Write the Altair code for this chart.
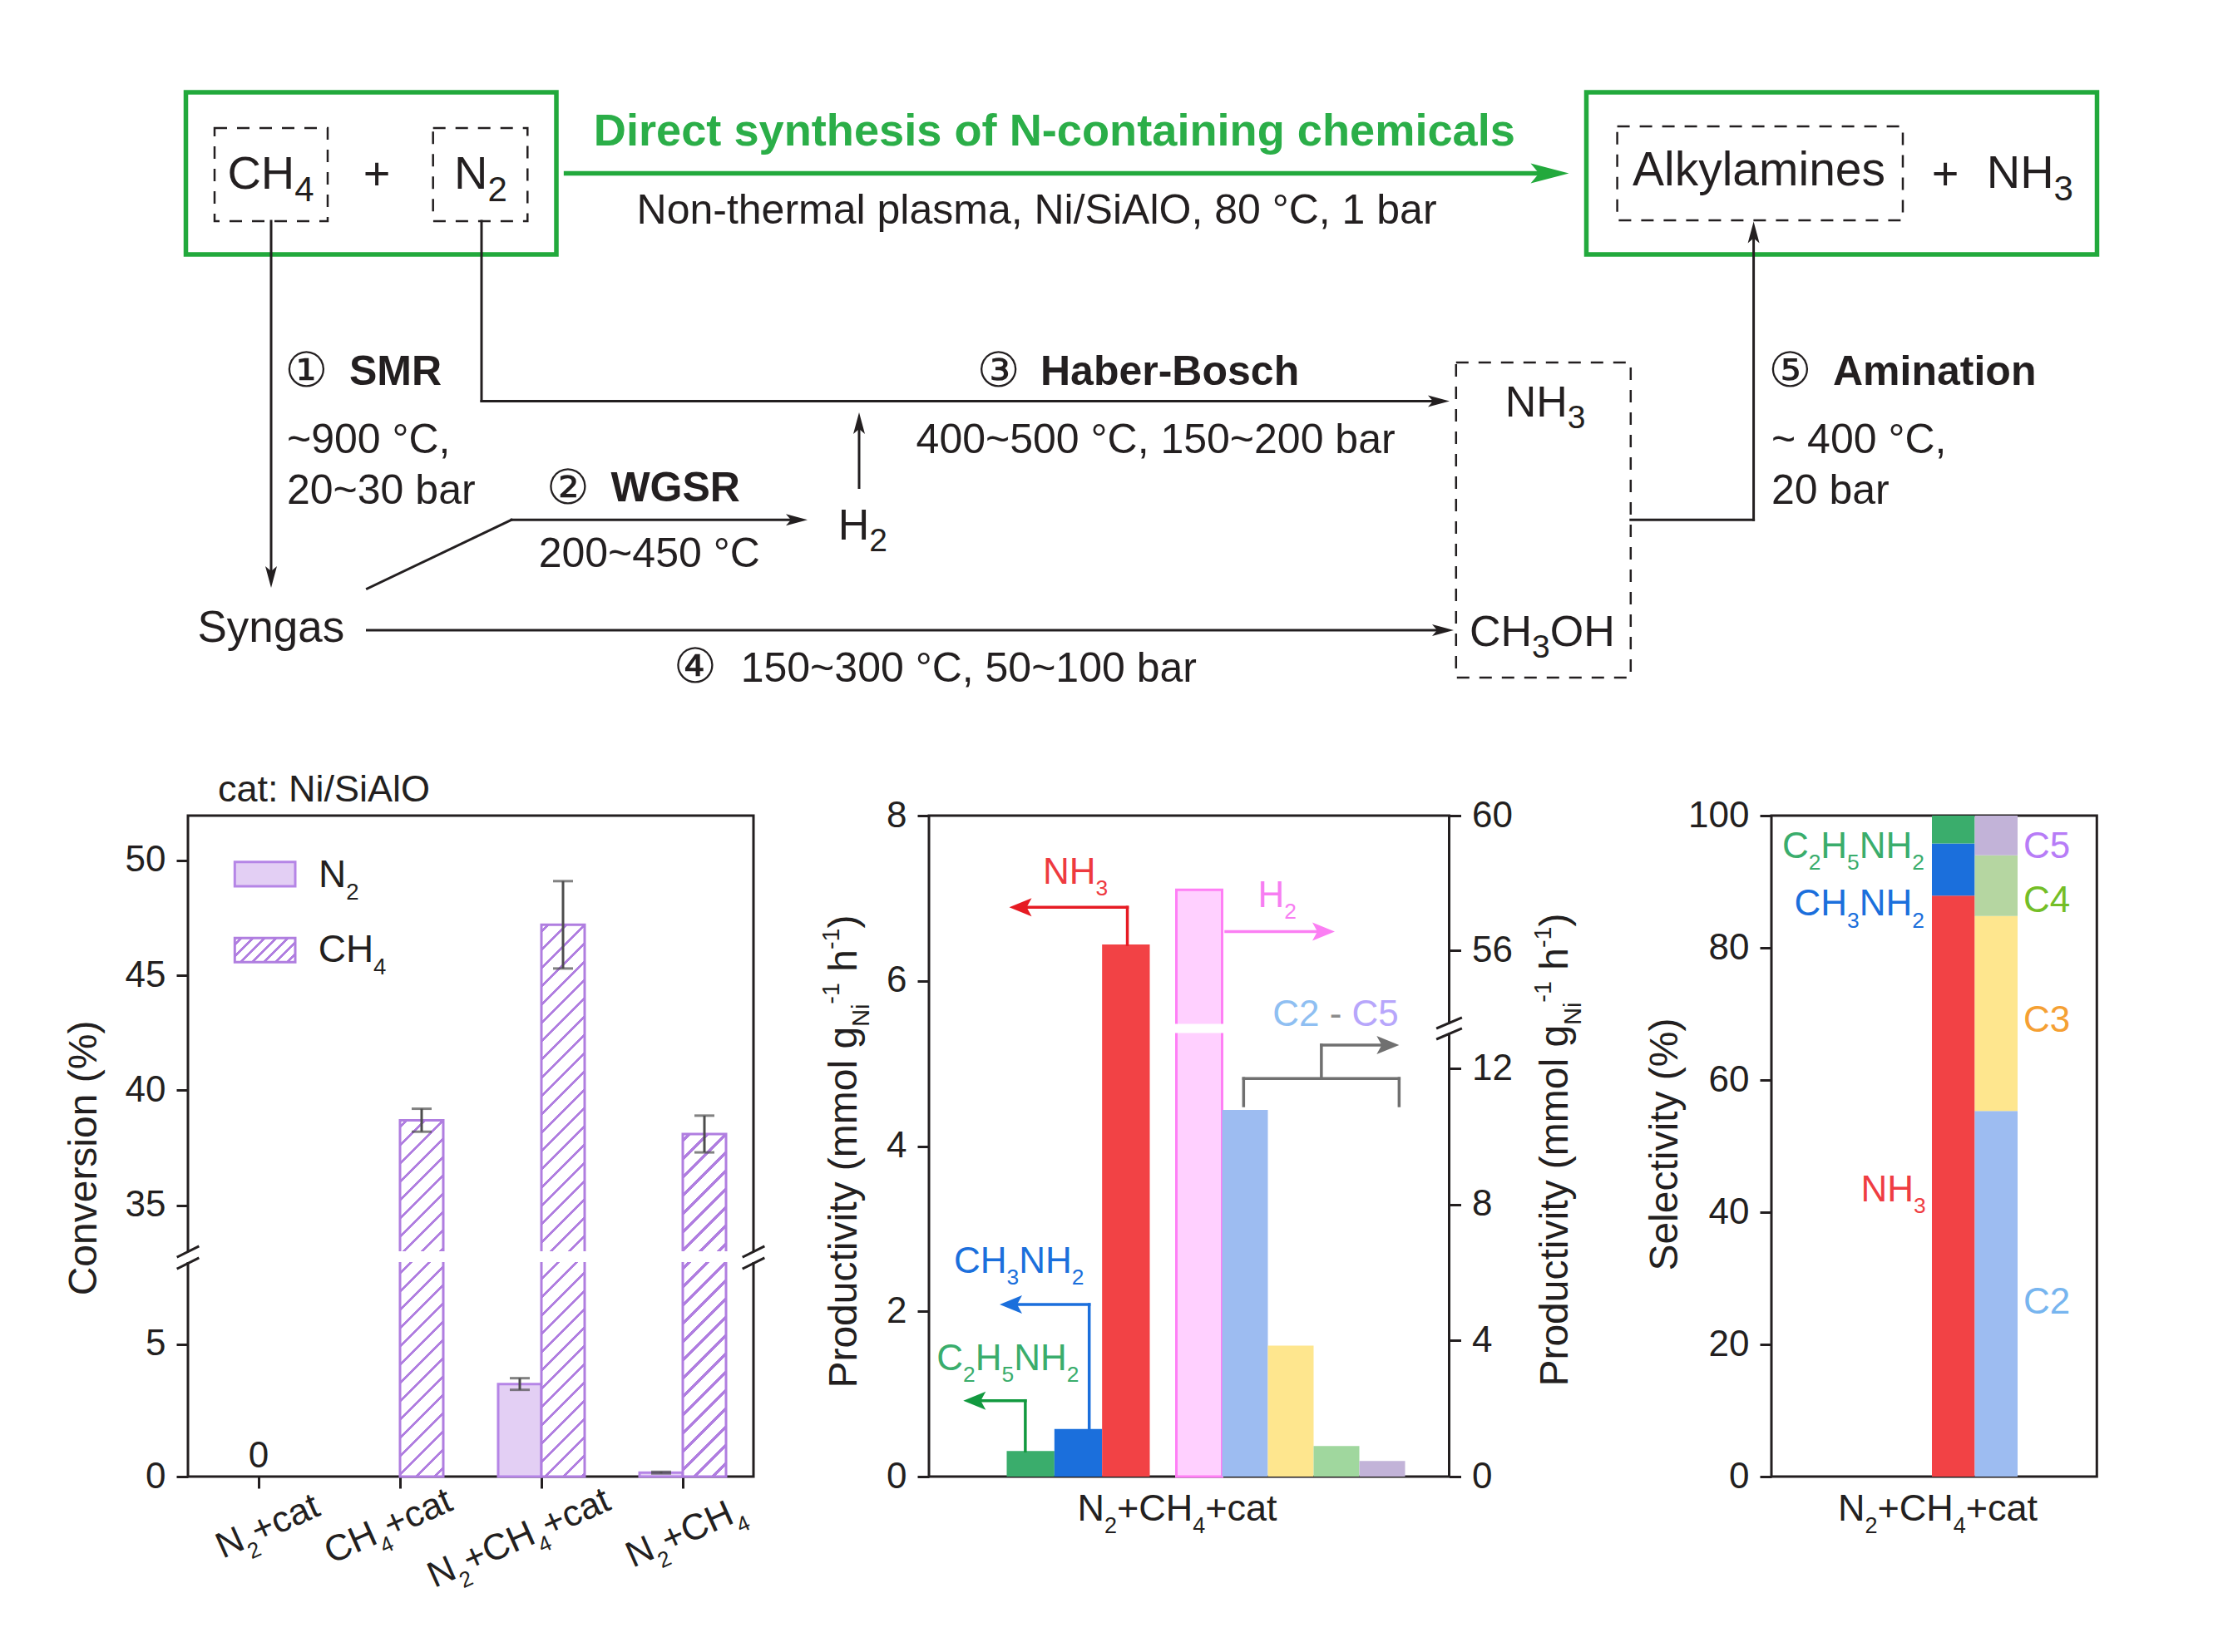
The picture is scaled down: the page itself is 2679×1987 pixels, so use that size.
import math
import numpy as np
import pandas as pd
import altair as alt

# ---------------------------------------------------------------- data
conv_categories = ["N2+cat", "CH4+cat", "N2+CH4+cat", "N2+CH4"]
conv_n2 = [0.0, None, 3.5, 0.15]
conv_n2_err = [0.0, None, 0.22, 0.03]
conv_ch4 = [None, 38.7, 47.2, 38.1]
conv_ch4_err = [None, 0.5, 1.9, 0.8]

prod_left_products = ["C2H5NH2", "CH3NH2", "NH3"]
prod_left_values = [0.31, 0.575, 6.44]
prod_right_products = ["H2", "C2", "C3", "C4", "C5"]
prod_right_values = [57.8, 10.78, 3.85, 0.90, 0.46]

sel_groups = ["N", "C"]
sel_n_products = ["NH3", "CH3NH2", "C2H5NH2"]
sel_n_values = [87.9, 7.9, 4.2]
sel_c_products = ["C2", "C3", "C4", "C5"]
sel_c_values = [55.3, 29.5, 9.2, 6.0]

# ---------------------------------------------------------------- styles
FONT = "Liberation Sans"
CIRC_FONT = "DejaVu Sans, Noto Sans CJK SC"
INK = "#231f20"
GREEN = "#22a93c"
TITLE_GREEN = "#2bae48"
PURPLE = "#b07ee0"
N2_FILL = "#e3cff4"
N2_STROKE = "#b585e6"
ERR = "#4d4d4d"

H = 795.0
LEFT_W, MID_W, RIGHT_W = 680.0, 625.5, 391.3
GAP1, GAP2 = 210.5, 386.7
OL = (226.0, 981.0)

mid_keys = ["C2H5NH2", "CH3NH2", "NH3", "H2", "C2", "C3", "C4", "C5"]
mid_cols = ["#3aad6c", "#1b6fdc", "#f24245", "#ffd0ff", "#9dbcf1", "#fee68e", "#a0d79e", "#c2b3d8"]
sel_keys = ["N:NH3", "N:CH3NH2", "N:C2H5NH2", "C:C2", "C:C3", "C:C4", "C:C5"]
sel_cols = ["#f24245", "#1b6fdc", "#3aad6c", "#9dbcf1", "#fee68e", "#b5d6a1", "#c2b3d8"]

# ---------------------------------------------------------------- text metrics (Arial / Liberation Sans)
AR = {c: 556 for c in "0123456789"}
AR.update(dict(zip("ABCDEFGHIJKLMNOPQRSTUVWXYZ",
                   [667, 667, 722, 722, 667, 611, 778, 722, 278, 500, 667, 556, 833, 722, 778, 667, 778, 722, 667, 611, 722, 667, 944, 667, 667, 611])))
AR.update(dict(zip("abcdefghijklmnopqrstuvwxyz",
                   [556, 556, 500, 556, 556, 278, 556, 556, 222, 222, 500, 222, 833, 556, 556, 556, 556, 333, 500, 278, 556, 500, 722, 500, 500, 500])))
AR.update({" ": 278, "%": 889, "(": 333, ")": 333, "+": 584, ",": 278, "-": 333, ".": 278, "/": 278, ":": 278, "~": 584, "°": 400})
ARB = dict(AR)
ARB.update(dict(zip("ABCDEFGHIJKLMNOPQRSTUVWXYZ",
                    [722, 722, 722, 722, 667, 611, 778, 722, 278, 556, 722, 611, 833, 722, 778, 667, 778, 722, 667, 611, 722, 667, 944, 667, 667, 611])))
ARB.update(dict(zip("abcdefghijklmnopqrstuvwxyz",
                    [556, 611, 556, 611, 556, 333, 611, 611, 278, 278, 556, 278, 889, 611, 611, 611, 611, 389, 556, 333, 611, 556, 778, 556, 556, 500])))


def tw(s, size, bold=False):
    tab = ARB if bold else AR
    return sum(tab.get(c, 556) for c in s) * size / 1000.0


def parse_markup(s, color):
    segs, buf, i = [], "", 0
    while i < len(s):
        c = s[i]
        if c in "_^" and i + 1 < len(s):
            if buf:
                segs.append((buf, "n", color))
                buf = ""
            kind = "sub" if c == "_" else "sup"
            if s[i + 1] == "{":
                j = s.index("}", i)
                segs.append((s[i + 2:j], kind, color))
                i = j + 1
            else:
                segs.append((s[i + 1], kind, color))
                i += 2
        else:
            buf += c
            i += 1
    if buf:
        segs.append((buf, "n", color))
    return segs


CHART_SUB = (0.6, 0.33)
SCHEME_SUB = (0.75, 0.27)
SUP = (0.6, 0.42)


def layout(segs, ax, ay, size, align="left", angle=0.0, vcenter=False, bold=False,
           sub=CHART_SUB, sup=SUP):
    items, adv = [], 0.0
    for txt, kind, color in segs:
        if kind == "n":
            sz, sh = size, 0.0
        elif kind == "sub":
            sz, sh = size * sub[0], size * sub[1]
        else:
            sz, sh = size * sup[0], -size * sup[1]
        core = txt.strip(" ")
        lead = len(txt) - len(txt.lstrip(" "))
        items.append((core, sz, sh, adv + tw(" " * lead, sz, bold), color))
        adv += tw(txt, sz, bold)
    start = {"left": 0.0, "center": -adv / 2.0, "right": -adv}[align]
    perp0 = 0.36 * size if vcenter else 0.0
    th = math.radians(angle)
    ux, uy = math.cos(th), math.sin(th)
    vx, vy = -math.sin(th), math.cos(th)
    rows = []
    for core, sz, sh, a, color in items:
        if not core:
            continue
        al = start + a
        pp = perp0 + sh
        rows.append({"x": ax + ux * al + vx * pp, "y": ay + uy * al + vy * pp, "text": core,
                     "size": round(sz, 2), "color": color, "angle": angle % 360,
                     "bold": bold, "font": FONT, "align": "left"})
    return rows


def rich(s, ax, ay, size, color=INK, **kw):
    return layout(parse_markup(s, color), ax, ay, size, **kw)


def circled(ch, cx, cy, size=58):
    return [{"x": cx, "y": cy + 0.34 * size, "text": ch, "size": size, "color": INK, "angle": 0,
             "bold": False, "font": CIRC_FONT, "align": "center"}]


def hatch(w, h, period, thick, color, bg="white", phase=6.0):
    total = w + h
    k = total / (w * w + h * h)
    stops = [{"offset": 0.0, "color": bg}]
    a = phase
    while a < total:
        b = min(a + thick, total)
        ta, tb = round(a / total, 5), round(b / total, 5)
        stops += [{"offset": ta, "color": bg}, {"offset": ta, "color": color},
                  {"offset": tb, "color": color}, {"offset": tb, "color": bg}]
        a += period
    stops.append({"offset": 1.0, "color": bg})
    return {"gradient": "linear", "x1": 0, "y1": 0, "x2": round(k * w, 6), "y2": round(k * h, 6), "stops": stops}


STYLES = {"s": (26, 7, 20), "g": (46, 12, 36), "m": (27, 11, 21)}


def head_path(d, L, hw, n):
    if d == "right":
        return f"M0,0L{-L},{-hw}L{-n},0L{-L},{hw}Z"
    if d == "left":
        return f"M0,0L{L},{-hw}L{n},0L{L},{hw}Z"
    if d == "up":
        return f"M0,0L{-hw},{L}L0,{n}L{hw},{L}Z"
    return f"M0,0L{-hw},{-L}L0,{-n}L{hw},{-L}Z"


class Annot:
    def __init__(self):
        self.texts, self.lines, self.outline, self.dashed, self.filled, self.heads, self.grads = [], [], [], [], [], [], []

    def seg(self, x1, y1, x2, y2, color=INK, sw=3.0):
        self.lines.append({"x": x1, "y": y1, "x2": x2, "y2": y2, "color": color, "sw": sw})

    def arrow(self, pts, style="s", color=INK, sw=3.0, head=True):
        L, hw, n = STYLES[style]
        for (x1, y1), (x2, y2) in zip(pts[:-2], pts[1:-1]):
            self.seg(x1, y1, x2, y2, color, sw)
        (x1, y1), (x2, y2) = pts[-2], pts[-1]
        if not head:
            self.seg(x1, y1, x2, y2, color, sw)
            return
        if abs(x2 - x1) > abs(y2 - y1):
            d = "right" if x2 > x1 else "left"
        else:
            d = "down" if y2 > y1 else "up"
        ex, ey = {"right": (x2 - n, y2), "left": (x2 + n, y2), "up": (x2, y2 + n), "down": (x2, y2 - n)}[d]
        self.seg(x1, y1, ex, ey, color, sw)
        self.heads.append({"x": x2, "y": y2, "shape": head_path(d, L, hw, n), "color": color})

    def shifted(self, ox, oy):
        out = Annot()
        for name in ["texts", "lines", "outline", "dashed", "filled", "heads", "grads"]:
            rows = []
            for r in getattr(self, name):
                r = dict(r)
                for key in ["x", "x2"]:
                    if key in r:
                        r[key] = r[key] - ox
                for key in ["y", "y2"]:
                    if key in r:
                        r[key] = r[key] - oy
                rows.append(r)
            setattr(out, name, rows)
        return out

    def layers(self):
        XQ = lambda f: alt.X(f + ":Q", scale=None, axis=None)
        YQ = lambda f: alt.Y(f + ":Q", scale=None, axis=None)
        out = []
        if self.filled:
            out.append(alt.Chart(pd.DataFrame(self.filled)).mark_rect().encode(
                x=XQ("x"), x2="x2:Q", y=YQ("y"), y2="y2:Q",
                fill=alt.Fill("fill:N", scale=None), stroke=alt.Stroke("stroke:N", scale=None),
                strokeWidth=alt.StrokeWidth("sw:Q", scale=None)))
        for g in self.grads:
            df = pd.DataFrame([{k: g[k] for k in ["x", "x2", "y", "y2"]}])
            out.append(alt.Chart(df).mark_rect(fill=g["grad"], stroke=g["stroke"], strokeWidth=g["sw"]).encode(
                x=XQ("x"), x2="x2:Q", y=YQ("y"), y2="y2:Q"))
        if self.outline:
            out.append(alt.Chart(pd.DataFrame(self.outline)).mark_rect(fill="transparent").encode(
                x=XQ("x"), x2="x2:Q", y=YQ("y"), y2="y2:Q",
                stroke=alt.Stroke("stroke:N", scale=None), strokeWidth=alt.StrokeWidth("sw:Q", scale=None)))
        if self.dashed:
            out.append(alt.Chart(pd.DataFrame(self.dashed)).mark_rect(fill="transparent", strokeDash=[15, 12]).encode(
                x=XQ("x"), x2="x2:Q", y=YQ("y"), y2="y2:Q",
                stroke=alt.Stroke("stroke:N", scale=None), strokeWidth=alt.StrokeWidth("sw:Q", scale=None)))
        if self.lines:
            out.append(alt.Chart(pd.DataFrame(self.lines)).mark_rule(strokeCap="square").encode(
                x=XQ("x"), x2="x2:Q", y=YQ("y"), y2="y2:Q",
                color=alt.Color("color:N", scale=None), strokeWidth=alt.StrokeWidth("sw:Q", scale=None)))
        if self.heads:
            out.append(alt.Chart(pd.DataFrame(self.heads)).mark_point(filled=True, size=4, opacity=1, strokeWidth=0).encode(
                x=XQ("x"), y=YQ("y"), shape=alt.Shape("shape:N", scale=None), color=alt.Color("color:N", scale=None)))
        if self.texts:
            tdf = pd.DataFrame(self.texts)
            for (bold, font, align), grp in tdf.groupby(["bold", "font", "align"]):
                out.append(alt.Chart(grp.drop(columns=["bold", "font", "align"])).mark_text(
                    align=align, baseline="alphabetic", font=font, fontWeight="bold" if bold else "normal").encode(
                    x=XQ("x"), y=YQ("y"), text=alt.Text("text:N"),
                    size=alt.Size("size:Q", scale=None), color=alt.Color("color:N", scale=None),
                    angle=alt.Angle("angle:Q", scale=None)))
        return alt.layer(*out)


FRAME = alt.ViewBackground(stroke=INK, strokeWidth=3)

# ================================================================ LEFT : conversion (broken axis)
conv_dom = [0.0, 8.11, 33.0, 51.95]
conv_rng = [H, 537.0, 524.0, 0.0]


def conv_px(v):
    return float(np.interp(v, conv_dom, conv_rng))


def conv_val(px):
    return float(np.interp(px, conv_rng[::-1], conv_dom[::-1]))


conv_rows = []
for cat, v, e in zip(conv_categories, conv_n2, conv_n2_err):
    if v is not None:
        conv_rows.append({"cat": cat, "series": "N2", "value": v, "lo": v - e, "hi": v + e, "err": e})
for cat, v, e in zip(conv_categories, conv_ch4, conv_ch4_err):
    if v is not None:
        conv_rows.append({"cat": cat, "series": "CH4", "value": v, "lo": v - e, "hi": v + e, "err": e})
conv_df = pd.DataFrame(conv_rows)

conv_step = LEFT_W / len(conv_categories)
conv_bw = 104.0
x_conv = alt.X("cat:N", scale=alt.Scale(domain=conv_categories, paddingInner=(conv_step - conv_bw) / conv_step,
                                        paddingOuter=(conv_step - conv_bw) / 2 / conv_step),
               axis=alt.Axis(labels=False, title=None, ticks=True, domain=False, orient="bottom"))
xoff = alt.XOffset("series:N", scale=alt.Scale(domain=["N2", "CH4"], paddingInner=0, paddingOuter=0))
y_conv_scale = alt.Scale(domain=conv_dom, range=conv_rng, nice=False, zero=False)
y_conv_axis = alt.Axis(values=[0, 5, 35, 40, 45, 50], title=None, orient="left")


def yc(field):
    return alt.Y(field + ":Q", scale=y_conv_scale, axis=y_conv_axis)


base = alt.Chart(conv_df)
left_layers = [base.transform_filter("datum.series == 'N2' && datum.value > 0").mark_bar(
    fill=N2_FILL, stroke=N2_STROKE, strokeWidth=3).encode(x=x_conv, xOffset=xoff, y=yc("value"))]
for cat, v in zip(conv_categories, conv_ch4):
    if v is None:
        continue
    grad = hatch(conv_bw / 2, H - conv_px(v), 22.0, 4.6, PURPLE)
    left_layers.append(base.transform_filter(f"datum.series == 'CH4' && datum.cat == '{cat}'").mark_bar(
        fill=grad, stroke=PURPLE, strokeWidth=3).encode(x=x_conv, xOffset=xoff, y=yc("value")))
gap_cats = [c for c, v in zip(conv_categories, conv_ch4) if v is not None and v > conv_dom[2]]
gap_df = pd.DataFrame({"cat": gap_cats, "g_lo": [conv_val(535.0)] * len(gap_cats), "g_hi": [conv_val(526.0)] * len(gap_cats)})
left_layers.append(alt.Chart(gap_df).mark_bar(fill="white", stroke="white", strokeWidth=4).encode(
    x=x_conv, y=yc("g_lo"), y2="g_hi:Q"))
err_base = base.transform_filter("datum.err > 0")
left_layers.append(err_base.mark_rule(color=ERR, strokeWidth=3).encode(x=x_conv, xOffset=xoff, y=yc("lo"), y2="hi:Q"))
left_layers.append(err_base.mark_tick(color=ERR, size=24, thickness=3).encode(x=x_conv, xOffset=xoff, y=yc("lo")))
left_layers.append(err_base.mark_tick(color=ERR, size=24, thickness=3).encode(x=x_conv, xOffset=xoff, y=yc("hi")))
left_layers.append(base.transform_filter("datum.series == 'N2' && datum.value == 0").mark_text(
    dy=-11.4, fontSize=44, font=FONT, color=INK, align="center", baseline="alphabetic").encode(
    x=x_conv, y=yc("value"), text=alt.Text("value:Q", format=".0f")))
left_data = alt.layer(*left_layers)

# ---- scheme + left-panel annotations (page coordinates)
A = Annot()
A.filled.append({"x": 9.7, "y": 9.7, "x2": 11.7, "y2": 11.7, "fill": "white", "stroke": "white", "sw": 0})
# boxes
A.outline.append({"x": 223.5, "y": 111, "x2": 669, "y2": 306, "stroke": GREEN, "sw": 5.5})
A.outline.append({"x": 1907.5, "y": 111, "x2": 2521.5, "y2": 306, "stroke": GREEN, "sw": 5.5})
for (x1, y1, x2, y2) in [(258, 154, 394, 266), (520.7, 154, 634.3, 266), (1944.6, 152, 2288, 265), (1750.8, 436, 1960.8, 815)]:
    A.dashed.append({"x": x1, "y": y1, "x2": x2, "y2": y2, "stroke": INK, "sw": 2.5})
# arrows
A.arrow([(680.6, 208.5), (1886.5, 208.5)], "g", GREEN, 5.5)
A.arrow([(326, 266), (326, 707)])
A.arrow([(579, 266), (579, 482.4), (1743, 482.4)])
A.arrow([(1033, 586.5), (1033, 496)])
A.arrow([(441.5, 708), (615, 625.3), (971, 625.3)])
A.arrow([(441.5, 758), (1748, 758)])
A.arrow([(1960.8, 625.3), (2108.6, 625.3), (2108.6, 266.6)])
# scheme texts
T = A.texts
T += rich("CH_4", 325.5, 226.7, 56, align="center", sub=SCHEME_SUB)
T += rich("+", 453, 208, 56, align="center", vcenter=True)
T += rich("N_2", 578, 226.7, 56, align="center", sub=SCHEME_SUB)
T += rich("Direct synthesis of N-containing chemicals", 1268, 174.8, 54.2, TITLE_GREEN, align="center", bold=True)
T += rich("Non-thermal plasma, Ni/SiAlO, 80 °C, 1 bar", 1246.5, 269, 50, align="center")
T += rich("Alkylamines", 2115, 223, 57, align="center")
T += rich("+", 2339, 208, 56, align="center", vcenter=True)
T += rich("NH_3", 2388.7, 225.8, 56, sub=SCHEME_SUB)
T += rich("SMR", 420, 463.3, 50, bold=True)
T += rich("~900 °C,", 345, 544.7, 50)
T += rich("20~30 bar", 345, 606, 50)
T += rich("WGSR", 734.4, 603, 50, bold=True)
T += rich("200~450 °C", 780.7, 682.4, 50, align="center")
T += rich("H_2", 1007.7, 649, 52, sub=SCHEME_SUB)
T += rich("Syngas", 237.4, 771.7, 53)
T += rich("150~300 °C, 50~100 bar", 890.7, 820, 50)
T += rich("Haber-Bosch", 1251, 463.3, 50, bold=True)
T += rich("400~500 °C, 150~200 bar", 1101.6, 544.7, 50)
T += rich("NH_3", 1809.7, 501, 52, sub=SCHEME_SUB)
T += rich("CH_3OH", 1767, 776.8, 52, sub=SCHEME_SUB)
T += rich("Amination", 2204, 463.3, 50, bold=True)
T += rich("~ 400 °C,", 2130, 544.7, 50)
T += rich("20 bar", 2130, 606, 50)
T += circled("①", 368.4, 445)
T += circled("②", 683, 586)
T += circled("③", 1200.7, 445)
T += circled("④", 836, 801)
T += circled("⑤", 2152.6, 445)
# left panel texts
ox, oy = OL
T += rich("cat: Ni/SiAlO", 262, 964, 45)
T += rich("Conversion (%)", 98.5, 1393, 48, align="center", angle=270, vcenter=True)
T += rich("N_2", 383, 1066.7, 46)
T += rich("CH_4", 382.7, 1157, 46)
tick_label_pos = {"N2+cat": ("N_2+cat", 321, 1834), "CH4+cat": ("CH_4+cat", 466, 1834),
                  "N2+CH4+cat": ("N_2+CH_4+cat", 623, 1848), "N2+CH4": ("N_2+CH_4", 823, 1841)}
for cat in conv_categories:
    s, px, py = tick_label_pos[cat]
    T += rich(s, px, py, 44, align="center", angle=336, vcenter=True)
# legend swatches
A.filled.append({"x": ox + 56.3, "y": oy + 55.7, "x2": ox + 129, "y2": oy + 85, "fill": N2_FILL, "stroke": N2_STROKE, "sw": 3})
A.grads.append({"x": ox + 56.3, "y": oy + 147.3, "x2": ox + 129, "y2": oy + 176.3,
                "grad": hatch(72.7, 29.0, 14.0, 4.2, PURPLE), "stroke": PURPLE, "sw": 3})
# axis break marks
for xc in [0.0, LEFT_W]:
    A.filled.append({"x": ox + xc - 6, "y": oy + 524, "x2": ox + xc + 6, "y2": oy + 537, "fill": "white", "stroke": "white", "sw": 0})
    for ycn in [524.5, 538.5]:
        A.seg(ox + xc - 12, oy + ycn + 6, ox + xc + 12, oy + ycn - 6, INK, 3)

left_annot = A.shifted(ox, oy).layers()
left_chart = alt.layer(left_data, left_annot).resolve_scale(
    x="independent", y="independent", color="independent").properties(width=LEFT_W, height=H, view=FRAME)

# ================================================================ MIDDLE : productivity
mid_r_dom = [0.0, 13.04, 53.83, 60.0]
mid_r_rng = [H, 261.5, 250.5, 0.0]
midL_range = [93.5, 265.5]     # left-axis group of bars
midR_range = [297.5, 572.5]    # right-axis group of bars
midL_step = (midL_range[1] - midL_range[0]) / len(prod_left_products)
midR_step = (midR_range[1] - midR_range[0]) / len(prod_right_products)


def midL_edge(p):
    return midL_range[0] + prod_left_products.index(p) * midL_step


def midR_edge(p):
    return midR_range[0] + prod_right_products.index(p) * midR_step


def mid_yL(v):
    return H * (1 - v / 8.0)


def mid_yR(v):
    return float(np.interp(v, mid_r_dom, mid_r_rng))


def mid_rval(px):
    return float(np.interp(px, mid_r_rng[::-1], mid_r_dom[::-1]))


midL_x = alt.X("product:N", scale=alt.Scale(domain=prod_left_products, range=midL_range, paddingInner=0, paddingOuter=0), axis=None)
midR_x = alt.X("product:N", scale=alt.Scale(domain=prod_right_products, range=midR_range, paddingInner=0, paddingOuter=0), axis=None)
mid_color = alt.Color("product:N", scale=alt.Scale(domain=mid_keys, range=mid_cols), legend=None)
prod_left_df = pd.DataFrame({"product": prod_left_products, "value": prod_left_values})
prod_right_df = pd.DataFrame({"product": prod_right_products, "value": prod_right_values})

yl = alt.Y("value:Q", scale=alt.Scale(domain=[0, 8], nice=False), axis=alt.Axis(orient="left", values=[0, 2, 4, 6, 8], title=None))
r_scale = alt.Scale(domain=mid_r_dom, range=mid_r_rng, nice=False, zero=False)
r_axis = alt.Axis(orient="right", values=[0, 4, 8, 12, 56, 60], title=None)

mid_left_bars = alt.Chart(prod_left_df).mark_bar().encode(x=midL_x, y=yl, color=mid_color)
h2_bar = alt.Chart(prod_right_df).transform_filter("datum.product == 'H2'").mark_bar(
    fill="#ffd0ff", stroke="#ff7ff5", strokeWidth=3).encode(x=midR_x, y=alt.Y("value:Q", scale=r_scale, axis=r_axis))
c_bars = alt.Chart(prod_right_df).transform_filter("datum.product != 'H2'").mark_bar().encode(
    x=midR_x, y=alt.Y("value:Q", scale=r_scale, axis=r_axis), color=mid_color)
h2_gap_df = pd.DataFrame({"product": ["H2"], "g_lo": [mid_rval(259.5)], "g_hi": [mid_rval(252.5)]})
h2_gap = alt.Chart(h2_gap_df).mark_bar(fill="white", stroke="white", strokeWidth=4).encode(
    x=midR_x, y=alt.Y("g_lo:Q", scale=r_scale, axis=r_axis), y2="g_hi:Q")
mid_data = alt.layer(mid_left_bars, alt.layer(h2_bar, c_bars, h2_gap)).resolve_scale(y="independent", x="independent")

pl = dict(zip(prod_left_products, prod_left_values))
pr = dict(zip(prod_right_products, prod_right_values))
M = Annot()
# arrows from bars
xv = midL_edge("NH3") + 0.53 * midL_step
M.arrow([(xv, mid_yL(pl["NH3"])), (xv, 110.3), (96.5, 110.3)], "m", "#e61b23", 3.5)
xv = midL_edge("CH3NH2") + 0.73 * midL_step
M.arrow([(xv, mid_yL(pl["CH3NH2"])), (xv, 588), (85, 588)], "m", "#1b6fdc", 3.5)
xv = midL_edge("C2H5NH2") + 0.39 * midL_step
M.arrow([(xv, mid_yL(pl["C2H5NH2"])), (xv, 703.7), (41.3, 703.7)], "m", "#12993f", 3.5)
xs = midR_edge("H2") + midR_step + 4.5
M.arrow([(xs, 139.5), (488, 139.5)], "m", "#fb7ff3", 3.5)
xl = midR_edge("C2") + 0.47 * midR_step
xr = midR_edge("C5") + 0.87 * midR_step
yb = mid_yR(pr["C2"]) - 5
ytop = 316.2
M.arrow([(xl, yb), (xl, ytop), (xr, ytop), (xr, yb)], "m", "#707070", 3.5, head=False)
xm = (xl + xr) / 2
M.arrow([(xm, ytop), (xm, 276), (xr, 276)], "m", "#707070", 3.5)
# labels
MT = M.texts
MT += rich("NH_3", 176, 66, 44, "#ee3a3f", align="center", vcenter=True)
MT += rich("H_2", 418.7, 94, 44, "#f77ef2", align="center", vcenter=True)
MT += layout([("C2", "n", "#8fbff2"), (" - ", "n", "#8c8c8c"), ("C5", "n", "#b7a6fb")], 489, 237, 44, align="center", vcenter=True)
MT += rich("CH_3NH_2", 108.3, 534, 44, "#1b6fdc", align="center", vcenter=True)
MT += rich("C_2H_5NH_2", 94.8, 651, 44, "#3aad6c", align="center", vcenter=True)
MT += rich("N_2+CH_4+cat", 298.5, 848, 45, align="center")
MT += rich("Productivity (mmol g_{Ni}^{-1} h^{-1})", -104.7, 404, 48, align="center", angle=270, vcenter=True)
MT += rich("Productivity (mmol g_{Ni}^{-1} h^{-1})", 750.5, 402, 48, align="center", angle=270, vcenter=True)
# right-axis break
M.filled.append({"x": MID_W - 6, "y": 250.5, "x2": MID_W + 6, "y2": 261.5, "fill": "white", "stroke": "white", "sw": 0})
for ycn in [249.5, 262.5]:
    M.seg(MID_W - 14, ycn + 6, MID_W + 14, ycn - 6, INK, 3)

mid_chart = alt.layer(mid_data, M.layers()).resolve_scale(
    x="independent", y="independent", color="independent").properties(width=MID_W, height=H, view=FRAME)

# ================================================================ RIGHT : selectivity
sel_rows = []
for i, (p, v) in enumerate(zip(sel_n_products, sel_n_values)):
    sel_rows.append({"group": "N", "key": "N:" + p, "value": v, "order": i})
for i, (p, v) in enumerate(zip(sel_c_products, sel_c_values)):
    sel_rows.append({"group": "C", "key": "C:" + p, "value": v, "order": i})
sel_df = pd.DataFrame(sel_rows)

sel_bars = alt.Chart(sel_df).mark_bar().encode(
    x=alt.X("group:N", scale=alt.Scale(domain=sel_groups, range=[193.0, 296.0], paddingInner=0, paddingOuter=0), axis=None),
    y=alt.Y("value:Q", stack="zero", scale=alt.Scale(domain=[0, 100], nice=False),
            axis=alt.Axis(values=[0, 20, 40, 60, 80, 100], title=None, orient="left")),
    color=alt.Color("key:N", scale=alt.Scale(domain=sel_keys, range=sel_cols), legend=None),
    order=alt.Order("order:Q", sort="ascending"))

R = Annot()
RT = R.texts
RT += rich("C_2H_5NH_2", 184, 35, 44, "#3aad6c", align="right", vcenter=True)
RT += rich("CH_3NH_2", 184, 104.4, 44, "#1b6fdc", align="right", vcenter=True)
RT += rich("NH_3", 185.6, 448, 44, "#ef3d42", align="right", vcenter=True)
RT += rich("C5", 303, 35, 44, "#b77cf7", vcenter=True)
RT += rich("C4", 303, 99.7, 44, "#74be27", vcenter=True)
RT += rich("C3", 303, 243.8, 44, "#f5a033", vcenter=True)
RT += rich("C2", 303, 583.5, 44, "#77b5ef", vcenter=True)
RT += rich("N_2+CH_4+cat", 200, 848, 45, align="center")
RT += rich("Selectivity (%)", -130.7, 395.6, 48, align="center", angle=270, vcenter=True)

right_chart = alt.layer(sel_bars, R.layers()).resolve_scale(
    x="independent", y="independent", color="independent").properties(width=RIGHT_W, height=H, view=FRAME)


# ================================================================ assemble
def spacer(w):
    return alt.Chart(pd.DataFrame({"s": [0]})).mark_point(opacity=0).encode(
        x=alt.X("s:Q", axis=None), y=alt.Y("s:Q", axis=None)).properties(width=w, height=H)


chart = alt.hconcat(left_chart, spacer(GAP1), mid_chart, spacer(GAP2), right_chart, spacing=0, bounds="flush").resolve_scale(
    color="independent", x="independent", y="independent").properties(padding=0, background="white").configure_view(
    stroke=None).configure_axis(
    grid=False, domain=False, tickColor=INK, tickWidth=3, tickSize=14, labelFont=FONT, labelFontSize=44,
    labelColor=INK, labelPadding=13, labelFlush=False, labelOverlap=False)

chart.save("out.html", embed_options={"renderer": "svg", "actions": False})
